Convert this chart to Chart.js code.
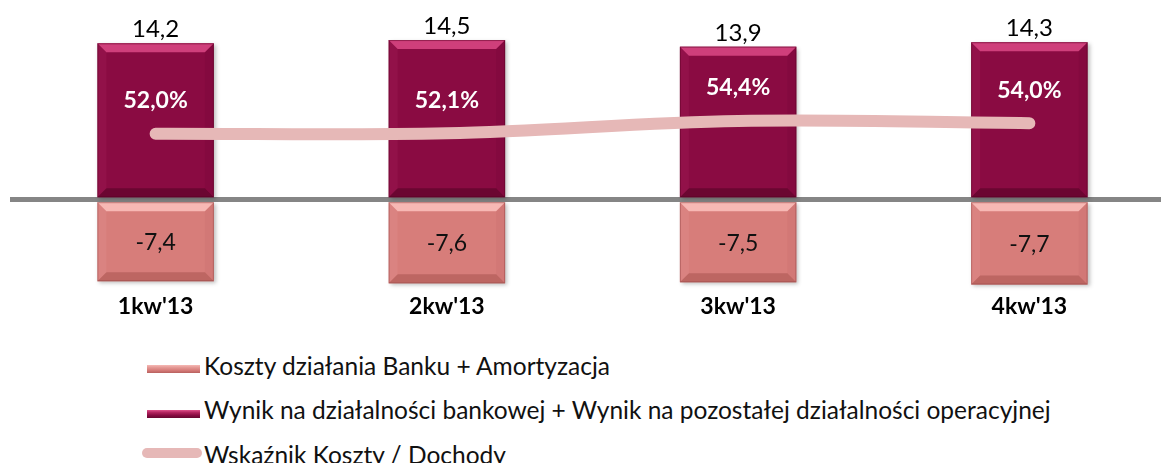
<!DOCTYPE html>
<html>
<head>
<meta charset="utf-8">
<script src="https://cdn.jsdelivr.net/npm/chart.js@4/dist/chart.umd.min.js"></script>
<style>
  html, body { margin: 0; padding: 0; background: #fff; overflow: hidden; width: 1161px; height: 463px; }
  #wrap { position: absolute; left: 0; top: 0; width: 1175px; height: 330px; }
  .legend { position: absolute; left: 0; top: 0; font-family: Lato, "Open Sans", sans-serif; font-size: 24.5px; color: #111; }
  .txt { position: absolute; left: 204px; line-height: 30px; white-space: nowrap; }
  .box { position: absolute; left: 147px; width: 53px; height: 8px; }
  .box.cost { background: linear-gradient(#f6b9b5 0%, #e59a96 30%, #d77d7a 65%, #b8605e 100%); }
  .box.income { background: linear-gradient(#e0528c 0%, #b3245f 30%, #8a0b42 65%, #660630 100%); }
  .seg { position: absolute; left: 142px; width: 60px; height: 10px; border-radius: 5px; background: #e6b8b7; }
</style>
</head>
<body>
<div id="wrap"><canvas id="chart"></canvas></div>
<div class="legend" id="legend"></div>
<script>
// quarterly data, PLN bn
const quarters = ["1kw'13", "2kw'13", "3kw'13", "4kw'13"];
const incomeValues = [14.2, 14.5, 13.9, 14.3];
const costValues = [-7.4, -7.6, -7.5, -7.7];
const ratioValues = [52.0, 52.1, 54.4, 54.0];

const costLabel = 'Koszty działania Banku + Amortyzacja';
const incomeLabel = 'Wynik na działalności bankowej + Wynik na pozostałej działalności operacyjnej';
const ratioLabel = 'Wskaźnik Koszty / Dochody';

const FONT = 'Lato, "Open Sans", sans-serif';

function fmt(v) {
    return v.toFixed(1).replace('.', ',');
}

// bevel + shadow on the bars
const bevelPlugin = {
    id: 'bevel',
    beforeDatasetDraw(chart, args) {
        const ctx = chart.ctx;
        ctx.save();
        if (args.meta.type === 'bar') {
            ctx.shadowColor = 'rgba(0,0,0,0.25)';
            ctx.shadowBlur = 4;
            ctx.shadowOffsetX = 2;
            ctx.shadowOffsetY = 2;
        }
    },
    afterDatasetDraw(chart, args) {
        const ctx = chart.ctx;
        ctx.restore();
        if (args.meta.type !== 'bar') {
            return;
        }
        const ds = chart.data.datasets[args.index];
        const b = 9;
        args.meta.data.forEach((bar) => {
            const p = bar.getProps(['x', 'y', 'base', 'width'], true);
            const l = p.x - p.width / 2;
            const r = p.x + p.width / 2;
            const t = Math.min(p.y, p.base);
            const btm = Math.max(p.y, p.base);
            ctx.save();
            // top face
            ctx.fillStyle = ds.bevelLight;
            ctx.beginPath();
            ctx.moveTo(l, t); ctx.lineTo(r, t); ctx.lineTo(r - b, t + b); ctx.lineTo(l + b, t + b);
            ctx.closePath(); ctx.fill();
            // bottom face
            ctx.globalAlpha = 0.7;
            ctx.fillStyle = ds.bevelDark;
            ctx.beginPath();
            ctx.moveTo(l, btm); ctx.lineTo(r, btm); ctx.lineTo(r - b, btm - b); ctx.lineTo(l + b, btm - b);
            ctx.closePath(); ctx.fill();
            // sides
            ctx.globalAlpha = 0.12;
            ctx.fillStyle = ds.bevelLight;
            ctx.beginPath();
            ctx.moveTo(l, t); ctx.lineTo(l + b, t + b); ctx.lineTo(l + b, btm - b); ctx.lineTo(l, btm);
            ctx.closePath(); ctx.fill();
            ctx.fillStyle = ds.bevelDark;
            ctx.beginPath();
            ctx.moveTo(r, t); ctx.lineTo(r - b, t + b); ctx.lineTo(r - b, btm - b); ctx.lineTo(r, btm);
            ctx.closePath(); ctx.fill();
            ctx.globalAlpha = 1;
            ctx.strokeStyle = ds.edgeColor;
            ctx.lineWidth = 1;
            ctx.strokeRect(l + 0.5, t + 0.5, p.width - 1, btm - t - 1);
            ctx.restore();
        });
    }
};

// value labels
const labelPlugin = {
    id: 'valueLabels',
    afterDraw(chart) {
        const ctx = chart.ctx;
        ctx.save();
        ctx.textAlign = 'center';
        chart.data.datasets.forEach((ds, i) => {
            const meta = chart.getDatasetMeta(i);
            meta.data.forEach((el, j) => {
                const v = ds.data[j];
                if (ds.role === 'income') {
                    ctx.font = '24px ' + FONT;
                    ctx.fillStyle = '#000';
                    ctx.textBaseline = 'alphabetic';
                    ctx.fillText(fmt(v), el.x, el.y - 6);
                } else if (ds.role === 'cost') {
                    ctx.font = '23px ' + FONT;
                    ctx.fillStyle = '#111';
                    ctx.textBaseline = 'middle';
                    ctx.fillText(fmt(v), el.x, (el.y + el.base) / 2 + 1);
                } else {
                    ctx.font = 'bold 23px ' + FONT;
                    ctx.fillStyle = '#fff';
                    ctx.textBaseline = 'middle';
                    ctx.fillText(fmt(v) + '%', el.x, el.y - 33);
                }
            });
        });
        ctx.restore();
    }
};

new Chart(document.getElementById('chart'), {
    data: {
        labels: quarters,
        datasets: [
            {
                type: 'line',
                role: 'ratio',
                label: ratioLabel,
                data: ratioValues,
                yAxisID: 'y1',
                borderColor: '#e6b8b7',
                borderWidth: 12,
                borderCapStyle: 'round',
                tension: 0.35,
                pointRadius: 0,
                order: 0,
            },
            {
                type: 'bar',
                role: 'income',
                label: incomeLabel,
                data: incomeValues,
                stack: 'a',
                backgroundColor: '#8a0b42',
                bevelLight: '#cf3f7b',
                bevelDark: '#5e042b',
                edgeColor: 'rgba(90,0,35,0.5)',
                barPercentage: 0.4,
                categoryPercentage: 1,
                order: 1,
            },
            {
                type: 'bar',
                role: 'cost',
                label: costLabel,
                data: costValues,
                stack: 'a',
                backgroundColor: '#d77d7a',
                bevelLight: '#f7b8b4',
                bevelDark: '#b25c59',
                edgeColor: 'rgba(150,70,70,0.5)',
                barPercentage: 0.4,
                categoryPercentage: 1,
                order: 1,
            },
        ],
    },
    options: {
        responsive: true,
        maintainAspectRatio: false,
        animation: false,
        layout: { padding: { top: 10, left: 10, right: 0, bottom: 10 } },
        plugins: {
            legend: { display: false },
            tooltip: { enabled: false },
        },
        scales: {
            x: {
                stacked: true,
                grid: { display: false, drawTicks: false },
                border: { display: false },
                ticks: {
                    padding: 0,
                    color: '#000',
                    font: { family: FONT, size: 23, weight: 'bold' },
                },
            },
            y: {
                stacked: true,
                min: -8.42,
                max: 17.23,
                z: 1,
                afterFit: (scale) => { scale.width = 0; },
                afterBuildTicks: (scale) => { scale.ticks = [{ value: 0 }]; },
                ticks: { display: false },
                border: { display: false },
                grid: { drawTicks: false, color: '#858585', lineWidth: 5 },
            },
            y1: {
                display: false,
                min: 22.08,
                max: 75.34,
            },
        },
    },
    plugins: [bevelPlugin, labelPlugin],
});

// legend, one entry per row
const legendEntries = [
    { cls: 'box cost', text: costLabel, swatchTop: 365, textTop: 351 },
    { cls: 'box income', text: incomeLabel, swatchTop: 410, textTop: 395 },
    { cls: 'seg', text: ratioLabel, swatchTop: 448, textTop: 440 },
];
const legendEl = document.getElementById('legend');
legendEntries.forEach((e) => {
    const sw = document.createElement('div');
    sw.className = e.cls;
    sw.style.top = e.swatchTop + 'px';
    const txt = document.createElement('div');
    txt.className = 'txt';
    txt.style.top = e.textTop + 'px';
    txt.textContent = e.text;
    legendEl.appendChild(sw);
    legendEl.appendChild(txt);
});
</script>
</body>
</html>
